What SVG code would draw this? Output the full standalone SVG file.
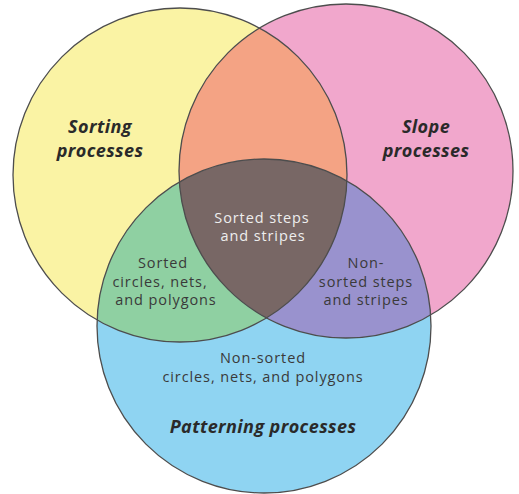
<svg xmlns="http://www.w3.org/2000/svg" width="519" height="494" viewBox="0 0 519 494">
<style>
.c{stroke:#4d4d4d;stroke-width:1.3}
.t{font-family:"Open Sans","Liberation Sans",sans-serif;font-size:14.5px;letter-spacing:0.9px;fill:#3a3a3a;text-anchor:middle}
.w{fill:#eeeeee}
.h{font-family:"Open Sans","Liberation Sans",sans-serif;font-size:18px;letter-spacing:0.4px;font-weight:bold;font-style:italic;fill:#2a2a2a;text-anchor:middle}
</style>
<defs>
<circle id="cy" cx="180" cy="175" r="167"/>
<circle id="cp" cx="346" cy="171" r="167"/>
<circle id="cb" cx="264" cy="326" r="167"/>
<clipPath id="clipY"><use href="#cy"/></clipPath>
<clipPath id="clipP"><use href="#cp"/></clipPath>
<clipPath id="clipB"><use href="#cb"/></clipPath>
</defs>
<rect width="519" height="494" fill="#ffffff"/>
<g id="sorting">
<use href="#cy" fill="#FAF3A4"/>
<text class="h" x="100" y="133">Sorting</text>
<text class="h" x="100" y="157">processes</text>
</g>
<g id="slope">
<use href="#cp" fill="#F1A7CC"/>
<text class="h" x="426" y="133">Slope</text>
<text class="h" x="426" y="157">processes</text>
</g>
<g id="patterning">
<use href="#cb" fill="#8FD4F2"/>
<text class="t" x="263" y="363">Non-sorted</text>
<text class="t" x="263" y="382">circles, nets, and polygons</text>
<text class="h" x="263" y="433">Patterning processes</text>
</g>
<g id="sorting-slope">
<g clip-path="url(#clipY)"><use href="#cp" fill="#F4A384"/></g>
</g>
<g id="sorted-circles">
<g clip-path="url(#clipY)"><use href="#cb" fill="#8FD0A2"/></g>
<text class="t" x="163" y="268">Sorted</text>
<text class="t" x="160" y="287">circles, nets,</text>
<text class="t" x="166" y="305">and polygons</text>
</g>
<g id="nonsorted-steps">
<g clip-path="url(#clipP)"><use href="#cb" fill="#9992CE"/></g>
<text class="t" x="366" y="268">Non-</text>
<text class="t" x="366" y="287">sorted steps</text>
<text class="t" x="366" y="305">and stripes</text>
</g>
<g id="sorted-steps">
<g clip-path="url(#clipY)"><g clip-path="url(#clipP)"><use href="#cb" fill="#786765"/></g></g>
<text class="t w" x="262" y="223">Sorted steps</text>
<text class="t w" x="263" y="241">and stripes</text>
</g>
<g id="connectors">
<use href="#cy" fill="none" class="c"/>
<use href="#cp" fill="none" class="c"/>
<use href="#cb" fill="none" class="c"/>
</g>
</svg>
